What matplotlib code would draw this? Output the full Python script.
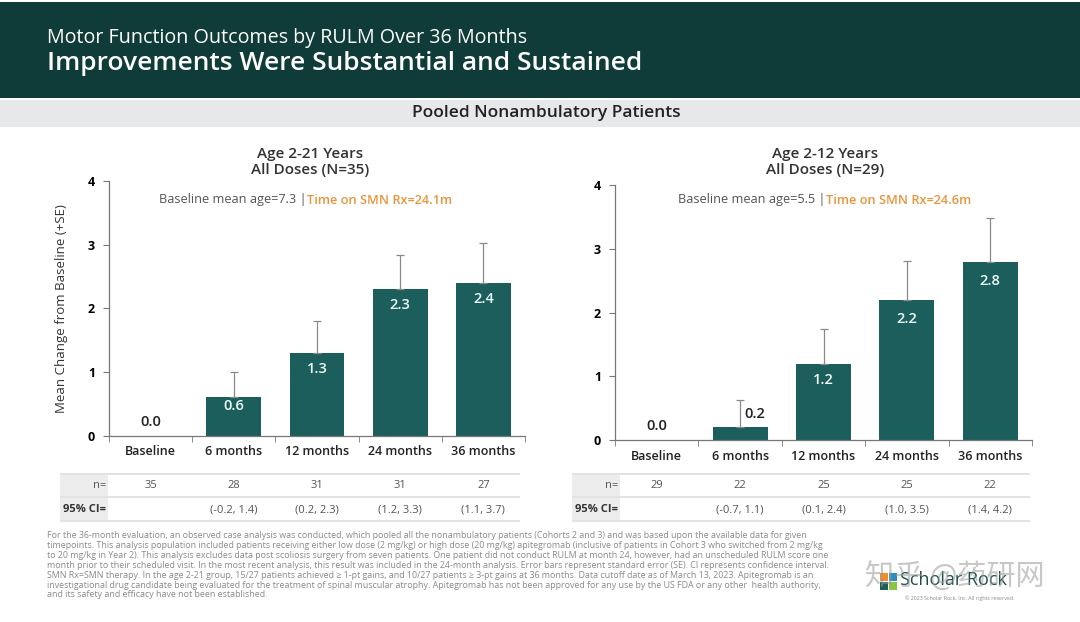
import matplotlib
matplotlib.use("Agg")
import matplotlib.pyplot as plt
from matplotlib.patches import Rectangle
from matplotlib.transforms import blended_transform_factory

plt.rcParams["font.family"] = ["Open Sans", "DejaVu Sans"]

categories = ["Baseline", "6 months", "12 months", "24 months", "36 months"]

left_means = [0.0, 0.6, 1.3, 2.3, 2.4]
left_se = [0.0, 0.4, 0.5, 0.53, 0.63]
left_n = ["35", "28", "31", "31", "27"]
left_ci = ["", "(-0.2, 1.4)", "(0.2, 2.3)", "(1.2, 3.3)", "(1.1, 3.7)"]

right_means = [0.0, 0.2, 1.2, 2.2, 2.8]
right_se = [0.0, 0.43, 0.54, 0.61, 0.68]
right_n = ["29", "22", "25", "25", "22"]
right_ci = ["", "(-0.7, 1.1)", "(0.1, 2.4)", "(1.0, 3.5)", "(1.4, 4.2)"]

footnote = [
    "For the 36-month evaluation, an observed case analysis was conducted, which pooled all the nonambulatory patients (Cohorts 2 and 3) and was based upon the available data for given",
    "timepoints. This analysis population included patients receiving either low dose (2 mg/kg) or high dose (20 mg/kg) apitegromab (inclusive of patients in Cohort 3 who switched from 2 mg/kg",
    "to 20 mg/kg in Year 2). This analysis excludes data post scoliosis surgery from seven patients. One patient did not conduct RULM at month 24, however, had an unscheduled RULM score one",
    "month prior to their scheduled visit. In the most recent analysis, this result was included in the 24-month analysis. Error bars represent standard error (SE). CI represents confidence interval.",
    "SMN Rx=SMN therapy. In the age 2-21 group, 15/27 patients achieved \u2265 1-pt gains, and 10/27 patients \u2265 3-pt gains at 36 months. Data cutoff date as of March 13, 2023. Apitegromab is an",
    "investigational drug candidate being evaluated for the treatment of spinal muscular atrophy. Apitegromab has not been approved for any use by the US FDA or any other  health authority,",
    "and its safety and efficacy have not been established.",
]

HEADER = "#0f3c38"
BAR = "#1c5e5b"
ORANGE = "#e8953c"
GRAY_TXT = "#555555"
W, H = 1080, 622


def fx(x):
    return x / W


def fy(y):
    return 1 - y / H


fig = plt.figure(figsize=(10.8, 6.22), dpi=100)
fig.patch.set_facecolor("white")

# header band
fig.patches.append(Rectangle((0, fy(98)), 1, 96 / H, transform=fig.transFigure,
                             facecolor=HEADER, edgecolor="none", zorder=0))
fig.text(fx(47), fy(38), "Motor Function Outcomes by RULM Over 36 Months",
         color="white", fontsize=14.2, va="center")
fig.text(fx(47), fy(64), "Improvements Were Substantial and Sustained",
         color="white", fontsize=19, fontweight="semibold", va="center")
fig.patches.append(Rectangle((0, fy(127)), 1, 27 / H, transform=fig.transFigure,
                             facecolor="#e6e8ea", edgecolor="none", zorder=0))
fig.text(fx(546), fy(113), "Pooled Nonambulatory Patients", color="#222222",
         fontsize=12.5, fontweight="semibold", ha="center", va="center")


def draw_panel(rect, means, se, title, age_txt, rx_txt, sub_x, title_x,
               n_vals, ci_vals, table_x0, table_x1, drop, ylabel=None):
    ax = fig.add_axes(rect)
    x = list(range(len(categories)))
    lower = [0.0] * len(se)
    ax.bar(x, means, width=0.66, color=BAR, zorder=2)
    err_x = [i for i in x if se[i] > 0]
    ax.errorbar(err_x, [means[i] for i in err_x],
                yerr=[[lower[i] for i in err_x], [se[i] for i in err_x]],
                fmt="none", ecolor="#8a8a8a", elinewidth=0.9, capsize=3,
                capthick=0.9, zorder=3)
    for i, v in enumerate(means):
        if v == 0:
            ax.text(i, v + 0.22, f"{v:.1f}", ha="center", va="center",
                    fontsize=10.5, color="#222222", fontweight="semibold")
        elif v < 0.4:
            ax.text(i + 0.05, v + 0.21, f"{v:.1f}", ha="left", va="center",
                    fontsize=10.5, color="#222222", fontweight="semibold")
        else:
            ax.text(i, max(v - drop, v * 0.78), f"{v:.1f}", ha="center",
                    va="center", fontsize=10.5, color="#eefaf8",
                    fontweight="semibold", zorder=4)
    ax.set_xlim(-0.5, len(categories) - 0.5)
    ax.set_ylim(0, 4)
    ax.set_yticks([0, 1, 2, 3, 4])
    ax.set_xticks(x)
    ax.set_xticklabels(categories, fontsize=9, fontweight="semibold")
    ax.set_xticks([i - 0.5 for i in range(len(categories) + 1)], minor=True)
    ax.tick_params(axis="x", which="major", length=0, pad=7, colors="#222222")
    ax.tick_params(axis="x", which="minor", length=4, color="#777777")
    ax.tick_params(axis="y", length=4, color="#777777", labelsize=9, pad=6)
    for lab in ax.get_yticklabels():
        lab.set_fontweight("bold")
    for s in ("top", "right"):
        ax.spines[s].set_visible(False)
    for s in ("left", "bottom"):
        ax.spines[s].set_color("#777777")
        ax.spines[s].set_linewidth(0.9)
    if ylabel:
        ax.set_ylabel(ylabel, fontsize=9.5, color="#333333", labelpad=14)

    fig.text(fx(title_x), fy(162), title, ha="center", va="center",
             fontsize=11, fontweight="semibold", color="#333333",
             linespacing=1.15)
    t1 = fig.text(fx(sub_x), fy(200), age_txt, ha="left", va="center",
                  fontsize=9.2, color=GRAY_TXT)
    fig.canvas.draw()
    ax.annotate(rx_txt, xy=(1, 0), xycoords=t1, va="bottom", ha="left",
                fontsize=9.2, color=ORANGE, fontweight="semibold")

    # table below the chart
    fig.patches.append(Rectangle((fx(table_x0), fy(475)), fx(table_x1 - table_x0),
                                 2.5 / H, transform=fig.transFigure,
                                 facecolor="#e3e3e3", edgecolor="none"))
    fig.patches.append(Rectangle((fx(table_x0), fy(521)), fx(48), 46 / H,
                                 transform=fig.transFigure,
                                 facecolor="#ededed", edgecolor="none"))
    for yy in (497, 521):
        fig.patches.append(Rectangle((fx(table_x0), fy(yy) - 0.6 / H),
                                     fx(table_x1 - table_x0), 1.3 / H,
                                     transform=fig.transFigure,
                                     facecolor="#e3e3e3", edgecolor="none"))
    fig.text(fx(table_x0 + 46), fy(486), "n=", ha="right", va="center",
             fontsize=8, color=GRAY_TXT)
    fig.text(fx(table_x0 + 46), fy(510), "95% CI=", ha="right", va="center",
             fontsize=8, color="#333333", fontweight="bold")
    tr = blended_transform_factory(ax.transData, fig.transFigure)
    for i in x:
        ax.text(i, fy(486), n_vals[i], transform=tr, ha="center", va="center",
                fontsize=8, color=GRAY_TXT)
        ax.text(i, fy(510), ci_vals[i], transform=tr, ha="center",
                va="center", fontsize=8, color=GRAY_TXT)
    return ax


draw_panel([fx(109), fy(435.7), fx(416), 254.7 / H], left_means, left_se,
           "Age 2-21 Years\nAll Doses (N=35)", "Baseline mean age=7.3 |",
           "Time on SMN Rx=24.1m", 159, 310, left_n, left_ci, 60, 520, 0.25,
           ylabel="Mean Change from Baseline (+SE)")
draw_panel([fx(615), fy(440), fx(417), 255 / H], right_means, right_se,
           "Age 2-12 Years\nAll Doses (N=29)", "Baseline mean age=5.5 |",
           "Time on SMN Rx=24.6m", 678, 825, right_n, right_ci, 572, 1030, 0.3)

fig.text(fx(47), fy(531), "\n".join(footnote), ha="left", va="top",
         fontsize=6.4, color="#8a8a8a", linespacing=1.13)

# logo area
for dx, dy, c in [(0, 0, "#1c5e5b"), (9, 0, "#8cc63f"), (0, 9, "#f28c28"),
                  (9, 9, "#2a8fbd")]:
    fig.patches.append(Rectangle((fx(880 + dx), fy(590 - dy)), fx(8), 8 / H,
                                 transform=fig.transFigure, facecolor=c,
                                 edgecolor="none"))
fig.text(fx(900), fy(580), "Scholar Rock", fontsize=13, color="#1c4e4a",
         va="center", ha="left")
fig.text(fx(905), fy(598), "\u00a9 2023 Scholar Rock, Inc. All rights reserved.",
         fontsize=3.8, color="#888888", va="center", ha="left")
fig.text(fx(955), fy(578), "知乎 @药研网", fontsize=21, color="#9a9a9a",
         alpha=0.55, va="center", ha="center",
         family=["Noto Sans CJK SC", "DejaVu Sans"])

fig.savefig("out.png", dpi=100)
